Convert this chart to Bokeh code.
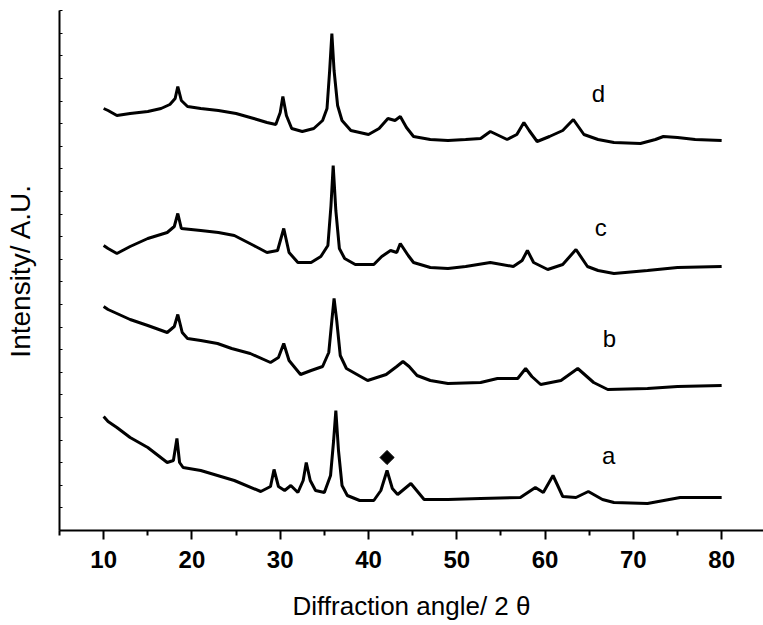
from bokeh.plotting import figure
from bokeh.embed import file_html
from bokeh.resources import INLINE
from bokeh.models import FixedTicker, CustomJSTickFormatter, Range1d
from bokeh.core.properties import value

# ---- data (2theta in degrees, intensity in A.U.) ----
d_x = [10, 10.5, 11.5, 13, 15, 16.5, 17.5, 18.1, 18.4, 18.8, 19.5, 21, 23, 25, 27, 28.5, 29.5,
       30.0, 30.3, 30.7, 31.3, 32.5, 33.8, 34.8, 35.3, 35.6, 35.85, 36.1, 36.5, 37, 38, 40, 41.2,
       42.2, 43, 43.6, 44.3, 45.1, 47, 49, 51, 52.7, 53.8, 55.7, 56.8, 57.6, 58.2, 59.1, 60.5, 62,
       63.2, 64.4, 66, 67.8, 70.8, 72.5, 73.4, 75, 77, 80]
d_y = [422, 420, 415, 417, 419, 422, 426, 432, 444, 430, 424, 422, 420, 417, 412, 408, 406,
       418, 434, 415, 402, 399, 402, 410, 422, 460, 497, 460, 425, 410, 400, 396, 402,
       412, 410, 414, 403, 394, 391, 390, 391, 392, 399, 391, 396, 408, 400, 389, 394, 400,
       411, 396, 391, 388, 387, 391, 394, 393, 391, 390]

c_x = [10, 10.5, 11.5, 13, 15, 17.2, 18.0, 18.4, 18.8, 21, 23, 24.8, 27, 28.5, 29.7, 30.4, 31,
       32, 33.5, 34.6, 35.4, 35.75, 36.0, 36.3, 36.7, 37.3, 38.5, 40.6, 41.5, 42.5, 43.2, 43.6,
       44.5, 45.1, 47, 49, 51, 53.8, 56.4, 57.4, 58, 58.7, 60.3, 62, 63.5, 64.8, 66, 67.8, 71.6,
       75, 80]
c_y = [285, 282, 277, 284, 292, 298, 304, 317, 302, 300, 298, 295, 285, 278, 280, 302, 278,
       268, 268, 274, 285, 325, 365, 320, 282, 272, 266, 266, 274, 280, 278, 287,
       275, 268, 263, 262, 264, 268, 264, 270, 280, 268, 261, 266, 281, 264, 260, 257, 260,
       263, 264]

b_x = [10, 10.5, 11.5, 13, 15, 17.2, 18.0, 18.4, 18.9, 19.5, 21, 22.9, 24.5, 26.6, 28.9, 29.8,
       30.4, 31, 32.3, 33.5, 34.8, 35.5, 35.85, 36.1, 36.4, 36.8, 37.5, 39.9, 42, 43.2, 43.9,
       44.6, 45.5, 47, 49, 52.7, 54.6, 56.9, 57.8, 58.5, 59.5, 61.8, 63.7, 65.5, 67.1, 71.6, 75,
       80]
b_y = [224, 221, 217, 211, 205, 198, 204, 216, 198, 192, 190, 187, 182, 177, 168, 173,
       187, 170, 156, 160, 164, 178, 210, 232, 210, 175, 162, 150, 156, 164, 169,
       164, 155, 150, 147, 148, 152, 152, 162, 154, 146, 150, 162, 148, 141, 142, 144,
       145]

a_x = [10, 10.5, 11.5, 13, 15, 17.2, 17.9, 18.3, 18.6, 19, 21, 24.8, 27.8, 28.9, 29.3, 29.8,
       30.5, 31.2, 32, 32.6, 32.95, 33.4, 34, 35, 35.7, 36.05, 36.3, 36.6, 37, 37.6, 39, 40.6,
       41.4, 42.1, 42.7, 43.3, 44.8, 46.3, 49, 52.7, 57.2, 58.9, 59.8, 60.9, 62, 63.5, 64.9,
       66.5, 67.8, 71.6, 75.3, 80]
a_y = [114, 109, 103, 93, 83, 68, 70, 92, 68, 63, 60, 50, 39, 44, 61, 44,
       40, 45, 38, 50, 68, 50, 40, 38, 55, 90, 120, 80, 45, 35, 30, 30,
       40, 60, 42, 36, 47, 31, 31, 32, 33, 43, 38, 55, 34, 33, 39,
       31, 28, 27, 33, 33]

curve_labels = ["a", "b", "c", "d"]
label_x = [67.2, 67.3, 66.3, 66.05]
label_y = [75, 192, 303, 437]

marker_x = [42.1]
marker_y = [73]

x_major = [10, 20, 30, 40, 50, 60, 70, 80]
x_minor = [5, 15, 25, 35, 45, 55, 65, 75, 85]

# ---- figure ----
p = figure(width=763, height=625, output_backend="svg", toolbar_location=None,
           x_range=Range1d(5, 84.74), y_range=Range1d(0, 520),
           min_border_left=59, min_border_right=0, min_border_top=10, min_border_bottom=95)
p.outline_line_color = None
p.xgrid.visible = False
p.ygrid.visible = False
p.background_fill_color = "white"
p.border_fill_color = "white"

for xs, ys in [(a_x, a_y), (b_x, b_y), (c_x, c_y), (d_x, d_y)]:
    p.line(xs, ys, line_color="black", line_width=3)

p.scatter(marker_x, marker_y, marker="square", angle=0.785398, size=10,
          fill_color="black", line_color="black")

p.text(label_x, label_y, text=curve_labels, text_font=value("Liberation Sans"),
       text_font_size="24px", text_align="center", text_baseline="middle", text_color="black")

# x axis
xa = p.xaxis[0]
xa.ticker = FixedTicker(ticks=x_major, minor_ticks=x_minor)
xa.axis_line_width = 2
xa.axis_line_color = "black"
xa.major_tick_line_width = 2
xa.major_tick_in = 0
xa.major_tick_out = 9
xa.minor_tick_line_width = 2
xa.minor_tick_in = 0
xa.minor_tick_out = 5
xa.major_label_text_font = "Liberation Sans"
xa.major_label_text_font_style = "bold"
xa.major_label_text_font_size = "24px"
xa.major_label_text_color = "black"
xa.major_label_standoff = 11
xa.axis_label = "Diffraction angle/ 2 \u03b8"
xa.axis_label_text_font = "Liberation Sans"
xa.axis_label_text_font_style = "normal"
xa.axis_label_text_font_size = "26px"
xa.axis_label_text_color = "black"
xa.axis_label_standoff = 20

# y axis
ya = p.yaxis[0]
ya.ticker = FixedTicker(ticks=[22.6 * i for i in range(24)], minor_ticks=[])
ya.formatter = CustomJSTickFormatter(code="return ''")
ya.axis_line_width = 2
ya.axis_line_color = "black"
ya.major_tick_line_width = 1
ya.major_tick_in = 3
ya.major_tick_out = 0
ya.minor_tick_line_color = None
ya.major_label_standoff = 0
ya.axis_label = "Intensity/ A.U."
ya.axis_label_text_font = "Liberation Sans"
ya.axis_label_text_font_style = "normal"
ya.axis_label_text_font_size = "28px"
ya.axis_label_text_color = "black"
ya.axis_label_standoff = 24

open("out.html", "w").write(file_html(p, INLINE))
